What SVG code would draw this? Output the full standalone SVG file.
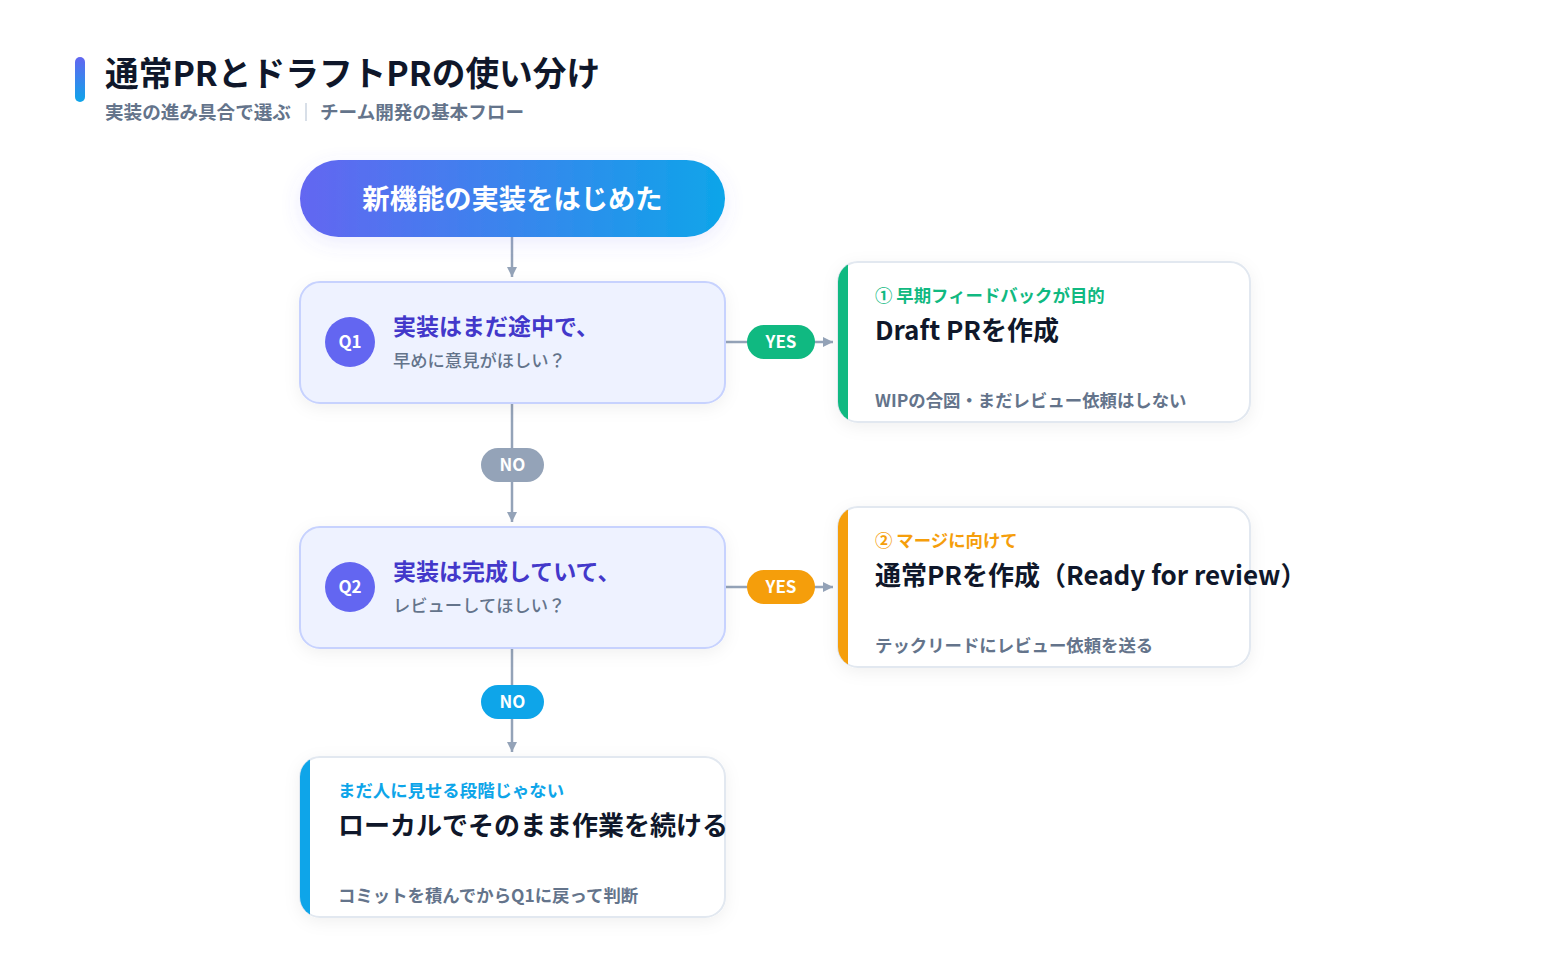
<svg xmlns="http://www.w3.org/2000/svg" width="1550" height="975" viewBox="0 0 1550 975">
<defs>
<linearGradient id="gStart" x1="0" y1="0" x2="1" y2="0"><stop offset="0" stop-color="#6366f1"/><stop offset="1" stop-color="#0ea5e9"/></linearGradient>
<linearGradient id="gBar" x1="0" y1="0" x2="0" y2="1"><stop offset="0" stop-color="#6366f1"/><stop offset="1" stop-color="#0ea5e9"/></linearGradient>
<filter id="glow" x="-20%" y="-40%" width="140%" height="180%"><feDropShadow dx="0" dy="6" stdDeviation="10" flood-color="#6366f1" flood-opacity="0.12"/></filter>
<filter id="soft" x="-20%" y="-30%" width="140%" height="160%"><feDropShadow dx="0" dy="4" stdDeviation="8" flood-color="#0f172a" flood-opacity="0.06"/></filter>
<marker id="arr" viewBox="0 0 10 10" refX="10" refY="5" markerWidth="10" markerHeight="10" markerUnits="userSpaceOnUse" orient="auto"><path d="M0,0 L10,5 L0,10 z" fill="#94a3b8"/></marker>
<clipPath id="c1"><rect x="838" y="262" width="412" height="160" rx="20"/></clipPath>
<clipPath id="c2"><rect x="838" y="507" width="412" height="160" rx="20"/></clipPath>
<clipPath id="c3"><rect x="300" y="757" width="425" height="160" rx="20"/></clipPath>
</defs>
<style>
text{font-family:"Noto Sans CJK JP","Noto Sans",sans-serif}
.h1{font-size:33.7px;font-weight:700;fill:#0f172a}
.sub{font-size:18.6px;font-weight:700;fill:#64748b}
.qbox{fill:#eef2ff;stroke:#c7d2fe;stroke-width:2}
.qc{fill:#6366f1}
.qn{font-size:17px;font-weight:700;fill:#fff}
.qm{font-size:23px;font-weight:700;fill:#4338ca}
.qs{font-size:17.3px;font-weight:500;fill:#64748b}
.card{fill:#fff;stroke:#e2e8f0;stroke-width:2}
.lab{font-size:17.4px;font-weight:700}
.ct{font-size:26px;font-weight:600;fill:#0f172a}
.cd{font-size:17.4px;font-weight:700;fill:#64748b}
.pl{font-size:17px;font-weight:700;fill:#fff}
.ln{stroke:#94a3b8;stroke-width:2.5;fill:none}
</style>
<g id="header">
<rect x="75" y="57" width="10" height="45" rx="5" fill="url(#gBar)"/>
<text class="h1" x="105" y="86">通常PRとドラフトPRの使い分け</text>
<text class="sub" x="105" y="119">実装の進み具合で選ぶ</text>
<line x1="306" y1="103" x2="306" y2="121" stroke="#cbd5e1" stroke-width="1.5"/>
<text class="sub" x="320" y="119">チーム開発の基本フロー</text>
</g>
<g id="connectors">
<line class="ln" x1="512" y1="237" x2="512" y2="277" marker-end="url(#arr)"/>
<line class="ln" x1="725" y1="342" x2="833" y2="342" marker-end="url(#arr)"/>
<line class="ln" x1="512" y1="403" x2="512" y2="522" marker-end="url(#arr)"/>
<line class="ln" x1="725" y1="587" x2="833" y2="587" marker-end="url(#arr)"/>
<line class="ln" x1="512" y1="648" x2="512" y2="752" marker-end="url(#arr)"/>
<g id="yes1"><rect x="747" y="325" width="68" height="34" rx="17" fill="#10b981"/><text class="pl" x="781" y="348" text-anchor="middle">YES</text></g>
<g id="no1"><rect x="481" y="448" width="63" height="34" rx="17" fill="#94a3b8"/><text class="pl" x="512.5" y="471" text-anchor="middle">NO</text></g>
<g id="yes2"><rect x="747" y="570" width="68" height="34" rx="17" fill="#f59e0b"/><text class="pl" x="781" y="593" text-anchor="middle">YES</text></g>
<g id="no2"><rect x="481" y="685" width="63" height="34" rx="17" fill="#0ea5e9"/><text class="pl" x="512.5" y="708" text-anchor="middle">NO</text></g>
</g>
<g id="start">
<rect x="300" y="160" width="425" height="77" rx="38.5" fill="url(#gStart)" filter="url(#glow)"/>
<text x="512.5" y="209" text-anchor="middle" font-size="27.3" font-weight="700" fill="#fff">新機能の実装をはじめた</text>
</g>
<g id="q1">
<rect class="qbox" x="300" y="282" width="425" height="121" rx="20" filter="url(#soft)"/>
<circle class="qc" cx="350" cy="342" r="25"/>
<text class="qn" x="350" y="348" text-anchor="middle">Q1</text>
<text class="qm" x="393" y="335">実装はまだ途中で、</text>
<text class="qs" x="393" y="367">早めに意見がほしい？</text>
</g>
<g id="q2">
<rect class="qbox" x="300" y="527" width="425" height="121" rx="20" filter="url(#soft)"/>
<circle class="qc" cx="350" cy="587" r="25"/>
<text class="qn" x="350" y="593" text-anchor="middle">Q2</text>
<text class="qm" x="393" y="580">実装は完成していて、</text>
<text class="qs" x="393" y="612">レビューしてほしい？</text>
</g>
<g id="draft">
<rect class="card" x="838" y="262" width="412" height="160" rx="20" filter="url(#soft)"/>
<rect x="838" y="262" width="10" height="160" fill="#10b981" clip-path="url(#c1)"/>
<text class="lab" x="875" y="302" fill="#10b981">① 早期フィードバックが目的</text>
<text class="ct" x="875" y="340">Draft PRを作成</text>
<text class="cd" x="875" y="407">WIPの合図・まだレビュー依頼はしない</text>
</g>
<g id="ready">
<rect class="card" x="838" y="507" width="412" height="160" rx="20" filter="url(#soft)"/>
<rect x="838" y="507" width="10" height="160" fill="#f59e0b" clip-path="url(#c2)"/>
<text class="lab" x="875" y="547" fill="#f59e0b">② マージに向けて</text>
<text class="ct" x="875" y="585">通常PRを作成（Ready for review）</text>
<text class="cd" x="875" y="652">テックリードにレビュー依頼を送る</text>
</g>
<g id="local">
<rect class="card" x="300" y="757" width="425" height="160" rx="20" filter="url(#soft)"/>
<rect x="300" y="757" width="10" height="160" fill="#0ea5e9" clip-path="url(#c3)"/>
<text class="lab" x="338" y="797" fill="#0ea5e9">まだ人に見せる段階じゃない</text>
<text class="ct" x="338" y="835">ローカルでそのまま作業を続ける</text>
<text class="cd" x="338" y="902">コミットを積んでからQ1に戻って判断</text>
</g>
</svg>
